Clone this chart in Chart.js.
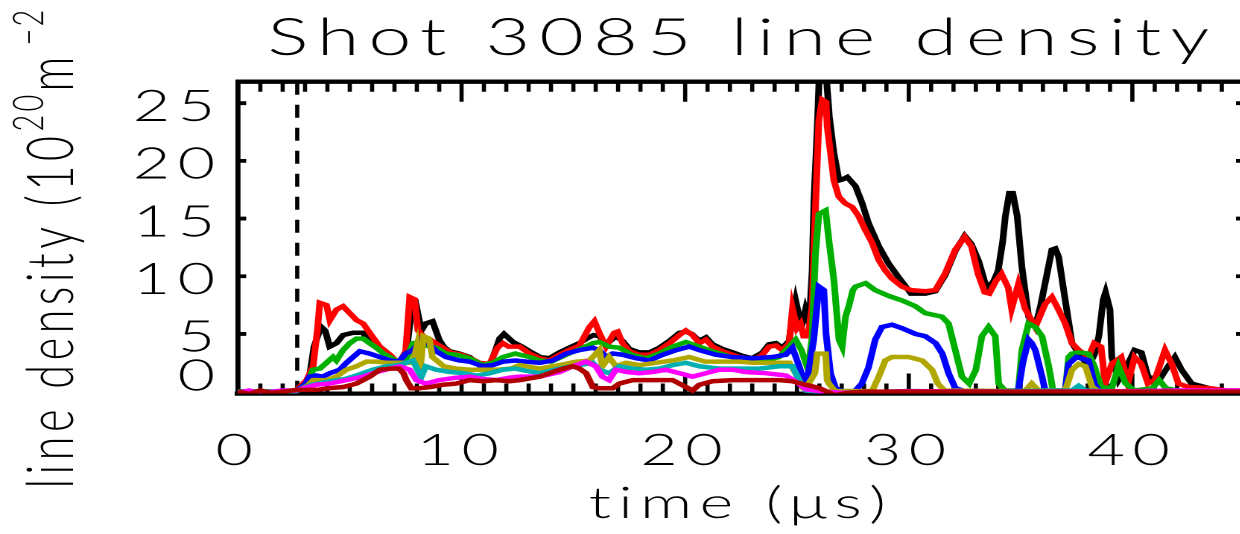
<!DOCTYPE html>
<html>
<head>
<meta charset="utf-8">
<title>Shot 3085 line density</title>
<script src="https://cdn.jsdelivr.net/npm/chart.js@4.4.1/dist/chart.umd.min.js"></script>
<style>
  html, body { margin: 0; padding: 0; background: #fff; width: 1240px; height: 534px; overflow: hidden; }
  /* the plot is laid out on an 838px-wide canvas and widened to the page, giving the wide stroke lettering */
  #stage { position: absolute; left: 0; top: 0; width: 838px; height: 534px; transform: scaleX(1.49); transform-origin: 0 0; }
  canvas { display: block; }
</style>
</head>
<body>
<div id="stage"><canvas id="chart" width="838" height="534"></canvas></div>
<script>
// ---- measured line densities, [time (us), density (1e20 m^-2)] ----
const black = [[0,0.05],[1,0],[2,0.05],[2.6,0.1],[3.0,0.6],[3.2,1.3],[3.4,3.9],[3.6,5.0],[3.73,5.6],[3.9,5.3],[4.1,3.9],[4.4,4.2],[4.7,4.9],[5.15,5.1],[5.6,5.1],[5.9,4.2],[6.34,3.6],[6.8,3.0],[7.2,2.2],[7.5,2.5],[7.6,4.5],[7.75,6.8],[7.98,7.4],[8.2,5.3],[8.4,5.9],[8.7,6.1],[9.0,4.5],[9.2,3.9],[9.46,3.5],[9.9,3.3],[10.36,3.0],[10.8,2.3],[11.25,2.2],[11.5,3.5],[11.7,4.6],[11.9,5.0],[12.3,4.3],[12.7,3.9],[13.04,3.5],[13.5,3.0],[13.93,2.9],[14.38,3.4],[14.8,3.8],[15.27,4.2],[15.6,4.6],[15.9,4.9],[16.16,4.8],[16.46,4.1],[16.9,4.8],[17.2,4.4],[17.5,3.7],[17.95,3.4],[18.4,3.4],[18.84,3.8],[19.3,4.4],[19.74,5.1],[20.03,5.2],[20.3,5.0],[20.63,4.4],[20.93,4.7],[21.22,4.1],[21.67,3.7],[22.12,3.4],[22.56,3.1],[23.0,2.9],[23.46,3.4],[23.75,4.1],[24.05,4.2],[24.35,3.8],[24.65,4.4],[24.8,6.5],[24.94,7.9],[25.1,6.5],[25.25,6.0],[25.38,7.1],[25.55,6.0],[25.68,10.5],[25.76,16.6],[25.9,22.5],[26.0,27.6],[26.3,27.6],[26.45,23.8],[26.65,20.7],[26.88,18.3],[27.05,18.4],[27.25,18.6],[27.62,17.8],[27.92,16.3],[28.2,14.6],[28.66,12.6],[29.1,11.1],[29.55,9.9],[30.1,8.5],[30.74,8.5],[31.19,8.7],[31.63,10.1],[32.08,12.2],[32.5,13.5],[32.8,12.8],[33.13,11.3],[33.4,9.5],[33.57,9.0],[33.8,9.6],[34.0,10.5],[34.2,13.0],[34.32,15.2],[34.5,17.2],[34.65,17.2],[34.85,15.2],[35.06,10.8],[35.36,6.5],[35.66,5.6],[35.9,7.5],[36.1,9.4],[36.4,12.3],[36.55,12.4],[36.7,11.7],[37.0,7.9],[37.3,4.2],[37.6,3.3],[38.04,2.2],[38.3,3.2],[38.5,4.8],[38.7,8.0],[38.8,8.6],[39.0,7.1],[39.08,3.0],[39.38,1.0],[39.8,2.4],[40.1,3.6],[40.4,3.4],[40.7,1.3],[41.2,1.0],[41.6,2.2],[41.9,3.0],[42.2,1.9],[42.65,0.7],[43.25,0.4],[43.8,0.1],[44.5,0.05],[45,0]];
const red = [[0,0],[1,0.05],[2,0],[2.6,0.1],[3.07,1.0],[3.36,2.2],[3.55,5.3],[3.66,7.7],[3.96,7.5],[4.11,6.2],[4.4,7.1],[4.7,7.4],[5.0,6.8],[5.3,6.2],[5.6,5.9],[5.89,5.1],[6.34,3.9],[6.8,3.2],[7.2,2.4],[7.5,3.5],[7.68,8.2],[7.9,8.0],[8.05,5.3],[8.3,4.8],[8.6,4.5],[9.0,4.0],[9.5,3.4],[10.0,3.2],[10.4,2.9],[10.8,2.5],[11.25,2.4],[11.6,3.8],[11.85,4.2],[12.1,3.9],[12.6,3.9],[13.04,3.3],[13.49,2.9],[13.93,2.7],[14.38,3.2],[14.8,3.6],[15.27,4.0],[15.72,5.6],[15.94,6.1],[16.16,5.1],[16.46,3.9],[16.83,5.1],[16.98,5.2],[17.2,4.2],[17.5,3.5],[17.95,3.2],[18.4,3.2],[18.84,3.6],[19.3,4.2],[19.74,4.9],[20.03,5.3],[20.33,4.9],[20.63,4.2],[20.93,4.5],[21.22,3.9],[21.67,3.5],[22.12,3.2],[22.56,2.9],[23.0,2.7],[23.46,3.2],[23.75,3.9],[24.05,4.0],[24.35,3.6],[24.65,4.2],[24.8,7.2],[25.0,5.5],[25.16,5.9],[25.3,4.8],[25.5,4.8],[25.68,7.5],[25.83,16.0],[25.98,23.5],[26.13,25.3],[26.3,25.1],[26.35,23.0],[26.5,20.7],[26.65,18.3],[26.87,16.9],[27.17,16.3],[27.47,16.0],[27.76,15.2],[28.06,14.0],[28.36,12.9],[28.66,11.4],[28.95,10.5],[29.25,9.8],[29.7,9.1],[30.1,8.8],[30.74,8.7],[31.19,8.8],[31.63,10.25],[32.08,12.3],[32.5,13.4],[32.8,12.6],[33.1,10.2],[33.4,8.6],[33.6,8.5],[33.9,9.6],[34.15,10.2],[34.45,9.0],[34.6,7.2],[34.9,9.3],[35.2,7.2],[35.66,5.6],[36.1,7.6],[36.4,8.2],[36.7,7.1],[37.0,5.9],[37.3,4.2],[37.6,3.6],[38.04,3.0],[38.3,4.2],[38.6,3.9],[38.78,0.7],[39.08,2.4],[39.5,3.0],[39.8,0.7],[40.1,3.0],[40.4,2.4],[40.7,0.7],[41.0,1.0],[41.46,3.6],[41.76,2.4],[42.06,0.7],[42.5,0.4],[43.5,0.3],[44.2,0.1],[45,0.1]];
const green = [[0,0],[2.6,0.05],[3.1,0.8],[3.36,1.9],[3.66,2.0],[3.96,2.5],[4.25,3.0],[4.4,2.7],[4.7,3.6],[5.0,4.2],[5.3,4.6],[5.6,4.6],[5.89,4.2],[6.2,3.8],[6.5,3.3],[6.8,3.0],[7.2,2.5],[7.5,2.7],[7.83,4.2],[8.13,4.3],[8.4,4.0],[8.87,3.8],[9.3,3.3],[9.76,3.2],[10.36,2.9],[10.95,2.3],[11.4,2.5],[11.85,3.0],[12.4,3.3],[13.04,3.0],[13.5,2.7],[14.0,2.6],[14.68,3.2],[15.42,3.8],[15.87,4.2],[16.16,4.3],[16.6,3.9],[17.06,3.8],[17.6,3.2],[18.25,2.9],[18.84,3.3],[19.44,3.9],[20.03,4.3],[20.63,3.9],[21.22,3.5],[22.1,3.0],[23.0,2.7],[23.6,2.7],[24.2,3.0],[24.65,3.9],[24.94,4.5],[25.2,3.6],[25.5,1.9],[25.68,4.8],[25.83,12.0],[25.98,15.4],[26.28,15.7],[26.43,13.1],[26.65,9.7],[26.88,4.5],[27.02,3.9],[27.17,6.5],[27.32,7.4],[27.5,8.8],[27.62,9.1],[28.07,9.4],[28.5,8.8],[29.1,8.3],[29.7,7.9],[30.3,7.4],[30.74,6.8],[31.48,6.5],[31.78,5.9],[32.08,3.6],[32.38,1.3],[32.7,0.7],[33.0,1.9],[33.27,4.8],[33.57,5.6],[33.87,4.8],[34.02,0.7],[34.3,0.1],[34.9,0.1],[35.06,3.6],[35.36,5.9],[35.66,5.6],[35.96,4.8],[36.26,2.2],[36.45,0.1],[37.0,0.1],[37.15,3.0],[37.3,3.3],[37.6,3.4],[38.04,3.3],[38.3,2.2],[38.6,0.4],[39.08,0.3],[39.38,2.2],[39.7,0.7],[40.1,0.1],[40.9,0.3],[41.2,1.0],[41.5,0.3],[42.0,0.1],[45,0]];
const blue = [[0,0],[2.6,0.05],[3.0,0.6],[3.2,1.3],[3.5,1.4],[3.8,1.3],[4.11,1.6],[4.55,1.9],[4.85,2.5],[5.15,3.0],[5.45,3.5],[5.89,3.3],[6.34,3.0],[6.8,2.7],[7.2,2.6],[7.5,3.3],[7.83,3.6],[8.27,4.6],[8.5,4.2],[8.87,3.5],[9.3,3.0],[9.9,2.7],[10.36,2.6],[10.95,2.2],[11.4,2.3],[11.85,2.6],[12.4,2.7],[12.9,2.6],[13.5,2.5],[14.08,2.7],[14.68,3.3],[15.27,3.6],[15.87,3.8],[16.16,3.6],[16.46,3.0],[16.76,3.3],[17.2,3.2],[17.8,2.9],[18.4,2.7],[19.0,3.2],[19.6,3.6],[20.18,3.9],[20.63,3.6],[21.37,3.2],[22.1,3.0],[23.0,2.9],[23.9,3.0],[24.5,3.2],[24.8,3.8],[25.1,2.2],[25.3,1.0],[25.5,1.5],[25.75,4.5],[25.98,9.1],[26.2,8.8],[26.3,5.0],[26.5,1.6],[26.73,0.3],[27.0,0.05],[27.6,0.05],[27.9,0.7],[28.2,2.1],[28.5,4.5],[28.8,5.6],[29.25,5.8],[29.7,5.5],[30.3,5.0],[30.74,4.8],[31.2,4.2],[31.5,3.3],[31.78,1.6],[32.08,0.3],[32.5,0.05],[33.0,0.1],[34.0,0],[34.9,0.1],[35.1,2.5],[35.36,4.5],[35.5,4.2],[35.66,3.6],[35.96,1.3],[36.1,0.1],[37.0,0.1],[37.15,2.4],[37.5,3.0],[38.04,2.7],[38.3,0.7],[38.5,0.05],[45,0]];
const olive = [[0,0],[2.6,0.05],[3.1,0.5],[3.36,1.0],[3.96,1.0],[4.4,1.3],[4.85,1.9],[5.3,2.2],[5.75,2.6],[6.2,2.6],[6.64,2.5],[7.23,2.5],[7.83,2.5],[8.0,3.9],[8.13,1.6],[8.3,4.8],[8.55,4.6],[8.7,3.0],[9.2,2.2],[9.76,2.0],[10.4,1.9],[11.0,1.9],[11.55,1.9],[12.2,2.0],[12.6,2.3],[13.49,2.0],[14.38,2.3],[15.12,2.6],[15.72,2.7],[16.16,3.6],[16.3,2.2],[16.6,3.0],[16.9,2.2],[17.35,2.5],[17.95,2.3],[18.7,2.5],[19.44,2.7],[20.18,3.0],[20.9,2.6],[21.8,2.6],[22.4,2.6],[23.0,2.5],[23.9,2.5],[24.65,2.5],[24.94,1.6],[25.25,0.4],[25.5,0.6],[25.8,1.6],[25.91,3.3],[26.28,3.3],[26.35,1.0],[26.43,0.7],[26.7,0.05],[28.36,0.05],[28.66,1.3],[28.95,2.7],[29.25,3.0],[30.0,3.0],[30.6,2.7],[31.04,1.9],[31.3,0.7],[31.6,0.1],[35.2,0.05],[35.5,0.7],[35.8,0.1],[37.0,0.1],[37.3,1.9],[37.6,2.4],[37.9,2.2],[38.2,0.4],[38.5,0.05],[45,0]];
const cyan = [[0,0],[2.6,0.05],[3.3,0.6],[4.1,0.9],[4.8,1.1],[5.3,1.4],[6.04,1.9],[6.64,2.2],[7.2,2.3],[7.83,2.7],[8.05,1.8],[8.2,1.3],[8.4,2.2],[8.87,1.9],[9.5,1.7],[10.1,1.6],[10.7,1.4],[11.25,1.6],[11.85,1.9],[12.4,2.0],[12.9,1.8],[13.49,1.6],[14.38,2.0],[15.27,2.3],[15.87,2.5],[16.16,1.9],[16.6,1.6],[17.06,2.2],[17.65,2.0],[18.25,1.9],[18.84,2.0],[19.44,2.3],[20.03,2.5],[20.63,2.2],[21.52,2.0],[22.41,2.0],[23.31,2.0],[24.2,2.2],[24.8,2.2],[25.09,1.0],[25.4,0.1],[26.0,0],[27.0,-0.1],[30.0,0.05],[33,0],[37.3,0.1],[37.6,0.5],[37.9,0.1],[40,0],[45,0]];
const magenta = [[0,-0.1],[0.5,0.1],[1.0,-0.15],[1.5,0],[2.0,0.1],[2.6,0.1],[3.5,0.6],[4.1,0.7],[4.85,1.0],[5.6,1.3],[6.2,1.7],[6.8,2.0],[7.23,2.2],[7.68,1.9],[7.98,1.0],[8.4,0.7],[9.0,1.0],[9.7,1.2],[10.36,1.3],[10.95,1.1],[11.55,1.0],[12.1,1.2],[12.6,1.3],[13.49,1.3],[14.38,1.7],[14.97,2.2],[15.57,2.6],[16.0,2.2],[16.3,1.3],[16.6,1.0],[16.9,1.9],[17.4,1.7],[17.95,1.6],[18.55,1.7],[19.14,1.9],[19.74,1.6],[20.33,1.3],[20.93,1.6],[21.52,1.9],[22.12,1.9],[22.7,1.7],[23.6,1.6],[24.5,1.4],[25.09,0.7],[25.4,0.2],[26,0.05],[27.0,-0.1],[30,0.05],[35,0],[40,0.05],[42,0.1],[45,0.1]];
const darkRed = [[0,0],[0.5,-0.2],[1.0,0.1],[1.5,-0.1],[2.0,0],[2.62,0.15],[3.5,0.15],[4.1,0.3],[4.7,0.4],[5.3,0.7],[5.89,1.3],[6.34,1.9],[6.79,2.0],[7.2,2.0],[7.4,1.6],[7.53,1.0],[7.75,0.3],[8.1,0.3],[8.6,0.4],[9.17,0.6],[9.76,0.7],[10.36,1.0],[10.95,0.9],[11.55,1.0],[12.14,0.9],[12.6,1.0],[13.49,1.3],[14.38,1.9],[14.97,2.2],[15.27,2.0],[15.57,1.6],[15.87,0.4],[16.16,0.3],[16.76,0.3],[17.06,0.7],[17.65,1.0],[18.84,1.0],[19.44,1.0],[20.03,0.4],[20.33,0.1],[20.63,0.6],[21.22,0.9],[22.12,1.0],[23.31,1.0],[24.2,1.0],[24.8,0.9],[25.4,0.6],[26.0,0.3],[26.7,-0.3],[27.3,-0.1],[28,0],[30,0],[35,0],[45,0]];

// reference time marker (us)
const markerTime = [2.65];

// axis ranges and tick spacing
const xRange = [0, 45];
const yRange = [-0.16, 26.86];
const xMajorStep = 10;
const xMinorStep = 1;
const yMajorStep = 5;

// text
const titleText = 'Shot 3085 line density';
const xTitleText = 'time (\u03bcs)';
const yTitleParts = [
  ['line density (10', 'base'],
  ['20', 'sup'],
  ['m', 'base'],
  ['\u22122', 'sup'],
  [')', 'base']
];

const FONT = "Lato, Roboto, 'Noto Sans', sans-serif";
const LETTER_SPACING = '5px';

const toPoints = (rows) => rows.map(([t, v]) => ({x: t, y: v}));

const series = [
  {label: 'chord 8', rows: darkRed, color: '#b00000'},
  {label: 'chord 7', rows: magenta, color: '#ff00ff'},
  {label: 'chord 6', rows: cyan, color: '#00b0b0'},
  {label: 'chord 5', rows: olive, color: '#b0a800'},
  {label: 'chord 4', rows: blue, color: '#0000ff'},
  {label: 'chord 3', rows: green, color: '#00b000'},
  {label: 'chord 2', rows: red, color: '#ff0000'},
  {label: 'chord 1', rows: black, color: '#000000'}
];

const datasets = series.map(s => ({
  label: s.label,
  data: toPoints(s.rows),
  borderColor: s.color,
  borderWidth: 4.5,
  pointRadius: 0,
  tension: 0,
  fill: false
}));

datasets.push({
  label: 'marker',
  data: [{x: markerTime[0], y: yRange[1]}, {x: markerTime[0], y: 0}],
  borderColor: '#000',
  borderWidth: 2.8,
  borderDash: [13, 10],
  pointRadius: 0
});

// wide lettering for tick labels and the x title
const spacing = {
  id: 'spacing',
  beforeDraw(chart) { chart.ctx.letterSpacing = LETTER_SPACING; },
  beforeDatasetsDraw(chart) { chart.ctx.letterSpacing = '0px'; }
};

// closed frame with inward tick marks on all four sides
const frame = {
  id: 'frame',
  beforeDatasetsDraw(chart) {
    const {ctx, chartArea: a, scales: {x, y}} = chart;
    ctx.save();
    ctx.strokeStyle = '#000';
    ctx.lineCap = 'butt';
    ctx.lineWidth = 4.3;
    ctx.beginPath();
    ctx.moveTo(a.left - 1.7, a.top);
    ctx.lineTo(a.right + 1.7, a.top);
    ctx.stroke();
    ctx.lineWidth = 3.4;
    ctx.beginPath();
    ctx.moveTo(a.right, a.top);
    ctx.lineTo(a.right, a.bottom);
    ctx.stroke();

    const majors = new Set(x.ticks.map(t => t.value));
    ctx.lineWidth = 2.8;
    ctx.beginPath();
    for (let v = x.min; v <= x.max + 1e-9; v += xMinorStep) {
      const px = x.getPixelForValue(v);
      const len = majors.has(Math.round(v)) ? 20 : 10;
      ctx.moveTo(px, a.top); ctx.lineTo(px, a.top + len);
      ctx.moveTo(px, a.bottom); ctx.lineTo(px, a.bottom - len);
    }
    ctx.stroke();

    ctx.lineWidth = 3.8;
    ctx.beginPath();
    y.ticks.forEach(t => {
      const py = y.getPixelForValue(t.value);
      ctx.moveTo(a.left, py); ctx.lineTo(a.left + 5.5, py);
      ctx.moveTo(a.right, py); ctx.lineTo(a.right - 5.5, py);
    });
    ctx.stroke();
    ctx.restore();
  }
};

// heading above the frame, spread to its run length
const heading = {
  id: 'heading',
  afterDraw(chart) {
    const ctx = chart.ctx;
    const left = 179.5, width = 632, baseline = 55;
    ctx.save();
    ctx.fillStyle = '#000';
    ctx.textAlign = 'left';
    ctx.textBaseline = 'alphabetic';
    ctx.font = `300 51.6px ${FONT}`;
    ctx.letterSpacing = '0px';
    const natural = ctx.measureText(titleText).width;
    ctx.letterSpacing = ((width - natural) / (titleText.length - 1)) + 'px';
    ctx.fillText(titleText, left, baseline);
    ctx.restore();
  }
};

// rotated y-axis title with raised exponents; each piece spans a set run along the axis,
// and the piece then advances by its step
const yTitle = {
  id: 'yTitle',
  afterDraw(chart) {
    const ctx = chart.ctx;
    const runs = [357, 40, 46, 38, 30];
    const steps = [357, 40, 46, 50, 30];
    ctx.save();
    ctx.fillStyle = '#000';
    ctx.textAlign = 'left';
    ctx.textBaseline = 'alphabetic';
    ctx.translate(49.2, 488.5);
    ctx.rotate(-Math.PI / 2);
    let pos = 0;
    yTitleParts.forEach(([text, kind], i) => {
      const sup = kind === 'sup';
      ctx.font = `300 ${sup ? 29 : 43.3}px ${FONT}`;
      ctx.letterSpacing = '0px';
      const natural = ctx.measureText(text).width;
      ctx.letterSpacing = Math.max(0, (runs[i] - natural) / text.length) + 'px';
      ctx.fillText(text, pos, sup ? -20.3 : 0);
      pos += steps[i];
    });
    ctx.restore();
  }
};

new Chart(document.getElementById('chart'), {
  type: 'line',
  data: {datasets},
  plugins: [spacing, frame, heading, yTitle],
  options: {
    responsive: false,
    animation: false,
    devicePixelRatio: 2,
    events: [],
    layout: {padding: {left: 0, right: 3, top: 81.7, bottom: 0}},
    plugins: {
      legend: {display: false},
      tooltip: {enabled: false},
      title: {display: false}
    },
    scales: {
      x: {
        type: 'linear',
        min: xRange[0],
        max: xRange[1],
        afterFit(scale) { scale.height = 140.5; },
        grid: {display: false, drawTicks: false},
        border: {display: true, color: '#000', width: 4.3},
        ticks: {
          stepSize: xMajorStep,
          includeBounds: false,
          autoSkip: false,
          maxRotation: 0,
          padding: 31.8,
          color: '#000',
          font: {family: FONT, size: 43.3, weight: 300}
        },
        title: {
          display: true,
          text: xTitleText,
          color: '#000',
          font: {family: FONT, size: 43.3, weight: 300},
          padding: {top: 0, bottom: 4}
        }
      },
      y: {
        type: 'linear',
        min: yRange[0],
        max: yRange[1],
        afterFit(scale) { scale.width = 159.7; },
        grid: {display: false, drawTicks: false},
        border: {display: true, color: '#000', width: 3.4},
        ticks: {
          stepSize: yMajorStep,
          includeBounds: false,
          padding: 10.4,
          color: '#000',
          font: {family: FONT, size: 43.3, weight: 300, lineHeight: '7.5px'},
          // the zero label sits a little above its tick, the others a little below
          callback: (v) => v === 0 ? [String(v), '', '', '', ''] : ['', String(v)]
        }
      }
    }
  }
});
</script>
</body>
</html>
